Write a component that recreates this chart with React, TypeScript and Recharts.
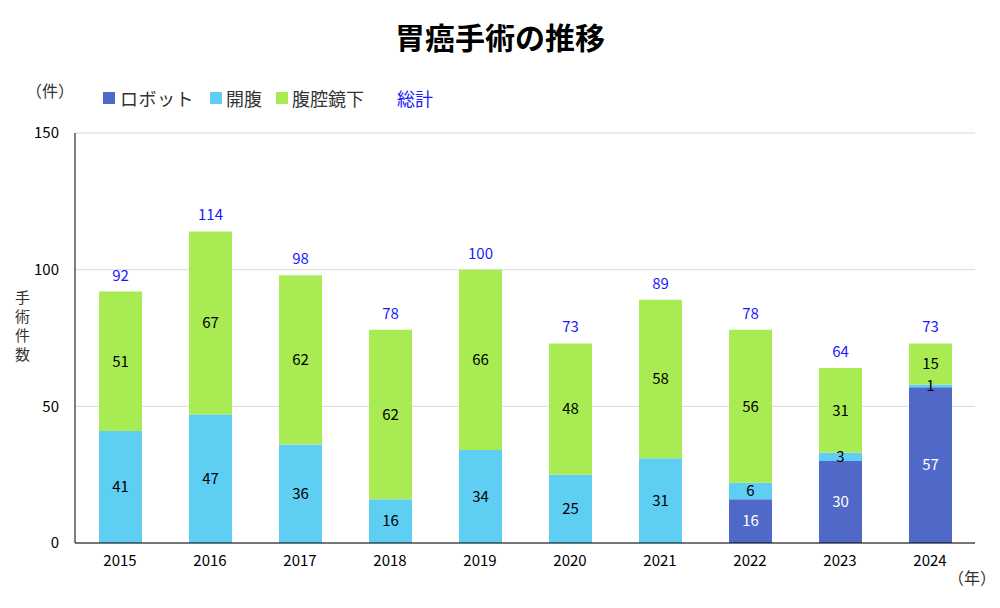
import React from "react";
import { BarChart, Bar, XAxis, YAxis, CartesianGrid, LabelList } from "recharts";

const years = ["2015", "2016", "2017", "2018", "2019", "2020", "2021", "2022", "2023", "2024"];
const robot = [0, 0, 0, 0, 0, 0, 0, 16, 30, 57];
const open = [41, 47, 36, 16, 34, 25, 31, 6, 3, 1];
const lap = [51, 67, 62, 62, 66, 48, 58, 56, 31, 15];
const totals = [92, 114, 98, 78, 100, 73, 89, 78, 64, 73];
const yTicks = [0, 50, 100, 150];

const data = years.map((y, i) => ({ year: y, robot: robot[i], open: open[i], lap: lap[i], total: totals[i] }));

const FONT = "'Noto Sans CJK JP', 'Noto Sans', sans-serif";
const C_ROBOT = "#5068C8";
const C_OPEN = "#5ECEF3";
const C_LAP = "#A9EB53";

const hideZero = (v: any) => (v === 0 || v == null ? "" : v);

export default function App() {
  return (
    <div style={{ position: "absolute", left: 0, top: 0, width: 1000, height: 608, background: "#fff", fontFamily: FONT }}>
      <BarChart width={1000} height={608} data={data} margin={{ top: 133, right: 25, bottom: 35, left: 25 }}>
        <CartesianGrid vertical={false} stroke="#d9d9d9" />
        <XAxis dataKey="year" axisLine={{ stroke: "#000" }} tickLine={false} tick={{ fill: "#000", fontSize: 15, fontFamily: FONT }} height={30} tickMargin={6} />
        <YAxis domain={[0, 150]} ticks={yTicks} axisLine={{ stroke: "#000" }} tickLine={false} tick={{ fill: "#000", fontSize: 15, fontFamily: FONT }} width={50} tickMargin={10} />
        <Bar dataKey="robot" stackId="a" fill={C_ROBOT} barSize={43} isAnimationActive={false}>
          <LabelList dataKey="robot" position="center" formatter={hideZero} fill="#fff" fontSize={15} fontFamily={FONT} />
        </Bar>
        <Bar dataKey="open" stackId="a" fill={C_OPEN} barSize={43} isAnimationActive={false}>
          <LabelList dataKey="open" position="center" formatter={hideZero} fill="#000" fontSize={15} fontFamily={FONT} />
        </Bar>
        <Bar dataKey="lap" stackId="a" fill={C_LAP} barSize={43} isAnimationActive={false}>
          <LabelList dataKey="lap" position="center" formatter={hideZero} fill="#000" fontSize={15} fontFamily={FONT} />
          <LabelList dataKey="total" position="top" offset={11} fill="#1a1aff" fontSize={15} fontFamily={FONT} />
        </Bar>
      </BarChart>

      <div style={{ position: "absolute", left: 0, top: 14, width: 1000, textAlign: "center", fontSize: 30, lineHeight: "44px", fontWeight: "bold", color: "#000" }}>
        胃癌手術の推移
      </div>

      <div style={{ position: "absolute", left: 26, top: 78, fontSize: 16, color: "#333" }}>（件）</div>

      <div style={{ position: "absolute", left: 103, top: 85, fontSize: 18, color: "#333", display: "flex", alignItems: "center", whiteSpace: "nowrap" }}>
        <span style={{ display: "inline-block", width: 12, height: 12, background: C_ROBOT, marginRight: 5 }} />
        <span style={{ letterSpacing: 0.5, marginRight: 16 }}>ロボット</span>
        <span style={{ display: "inline-block", width: 12, height: 12, background: C_OPEN, marginRight: 4 }} />
        <span style={{ marginRight: 14 }}>開腹</span>
        <span style={{ display: "inline-block", width: 12, height: 12, background: C_LAP, marginRight: 4 }} />
        <span>腹腔鏡下</span>
        <span style={{ color: "#1a1aff", marginLeft: 33 }}>総計</span>
      </div>

      <div style={{ position: "absolute", left: 13, top: 290, fontSize: 15, lineHeight: "18px", letterSpacing: 4, writingMode: "vertical-rl", color: "#333" }}>
        手術件数
      </div>

      <div style={{ position: "absolute", left: 948, top: 565, fontSize: 16, color: "#333" }}>（年）</div>
    </div>
  );
}
